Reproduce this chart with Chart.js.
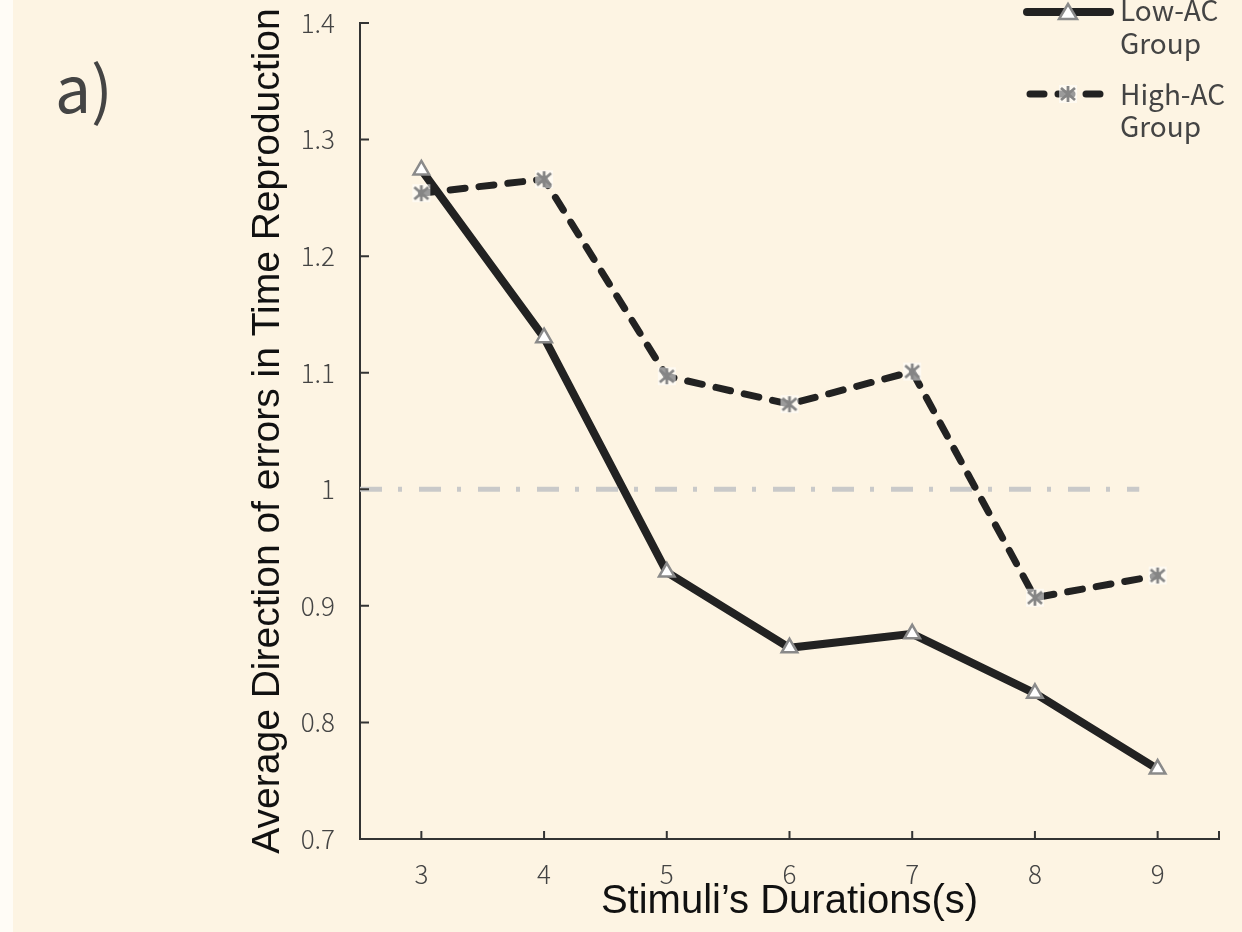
<!DOCTYPE html>
<html>
<head>
<meta charset="utf-8">
<script src="https://cdn.jsdelivr.net/npm/chart.js@4"></script>
<style>
    body { margin: 0; background: #fdf4e3; }
    #wrap { width: 1242px; height: 932px; position: relative; }
</style>
</head>
<body>
<div id="wrap"><canvas id="errors_chart"></canvas></div>
<script>
var arrDurations = ['3', '4', '5', '6', '7', '8', '9'];
var arrLowAC = [1.274, 1.130, 0.929, 0.864, 0.876, 0.825, 0.760];
var arrHighAC = [1.254, 1.266, 1.097, 1.073, 1.101, 0.907, 0.926];
var fltReference = 1;
var arrLegend = [['Low-AC', 'Group'], ['High-AC', 'Group']];

var strTickFont = '"Noto Sans CJK SC", "Noto Sans", sans-serif';
var strTitleFont = '"Liberation Sans", Arial, sans-serif';

// asterisk marker like the one excel uses
function makeStar() {
    const cnv = document.createElement('canvas');
    cnv.width = 24;
    cnv.height = 24;
    const c = cnv.getContext('2d');
    c.fillStyle = 'rgba(255,255,255,0.55)';
    c.fillRect(3, 3, 18, 18);
    c.strokeStyle = '#858585';
    c.lineWidth = 2.8;
    c.beginPath();
    c.moveTo(12, 4); c.lineTo(12, 20);
    c.moveTo(5, 6); c.lineTo(19, 18);
    c.moveTo(19, 6); c.lineTo(5, 18);
    c.stroke();
    return cnv;
}
var cnvStar = makeStar();

var extrasPlugin = {
    id: 'extras',
    beforeDraw(chart) {
        // thin light strip on the left edge of the scan
        chart.ctx.save();
        chart.ctx.fillStyle = '#fffcf6';
        chart.ctx.fillRect(0, 0, 13, chart.height);
        chart.ctx.restore();
    },
    beforeDatasetsDraw(chart) {
        const ctx = chart.ctx;
        const x = chart.scales.x;
        const y = chart.scales.y;
        const yRef = y.getPixelForValue(fltReference);
        ctx.save();
        ctx.strokeStyle = '#c9c9c9';
        ctx.lineWidth = 5;
        ctx.setLineDash([22, 16, 4, 17]);
        ctx.beginPath();
        ctx.moveTo(chart.chartArea.left, yRef);
        ctx.lineTo(x.getPixelForValue(5.85), yRef);
        ctx.stroke();
        ctx.restore();
    },
    afterDraw(chart) {
        const ctx = chart.ctx;
        const x = chart.scales.x;
        const y = chart.scales.y;
        const area = chart.chartArea;
        ctx.save();
        // inward tick marks
        ctx.strokeStyle = '#333';
        ctx.lineWidth = 2;
        ctx.beginPath();
        y.ticks.forEach(function (objTick) {
            const py = y.getPixelForValue(objTick.value);
            ctx.moveTo(area.left, py);
            ctx.lineTo(area.left + 9, py);
        });
        arrDurations.forEach(function (strDur, i) {
            const px = x.getPixelForValue(i);
            ctx.moveTo(px, area.bottom);
            ctx.lineTo(px, area.bottom - 8);
        });
        ctx.moveTo(area.right, area.bottom);
        ctx.lineTo(area.right, area.bottom - 8);
        ctx.stroke();

        // panel label
        ctx.fillStyle = '#444';
        ctx.font = '64px ' + strTickFont;
        ctx.textBaseline = 'alphabetic';
        ctx.textAlign = 'left';
        ctx.fillText('a)', 55, 113);

        // legend
        const lx0 = 1027, lx1 = 1110, tx = 1120;
        ctx.lineCap = 'round';
        ctx.strokeStyle = '#222';
        ctx.lineWidth = 8;
        ctx.beginPath();
        ctx.moveTo(lx0, 12); ctx.lineTo(lx1, 12);
        ctx.stroke();
        ctx.lineWidth = 7;
        ctx.setLineDash([14, 14]);
        ctx.beginPath();
        ctx.moveTo(lx0 + 3, 94); ctx.lineTo(lx1 - 3, 94);
        ctx.stroke();
        ctx.setLineDash([]);

        // triangle marker
        ctx.fillStyle = '#fff';
        ctx.strokeStyle = '#8a8a8a';
        ctx.lineWidth = 2.5;
        ctx.beginPath();
        ctx.moveTo(1068, 4); ctx.lineTo(1077, 19); ctx.lineTo(1059, 19);
        ctx.closePath();
        ctx.fill();
        ctx.stroke();
        ctx.drawImage(cnvStar, 1068 - 12, 94 - 12);

        ctx.fillStyle = '#444';
        ctx.font = '28px ' + strTickFont;
        ctx.textBaseline = 'middle';
        ctx.fillText(arrLegend[0][0], tx, 10);
        ctx.fillText(arrLegend[0][1], tx, 43);
        ctx.fillText(arrLegend[1][0], tx, 94);
        ctx.fillText(arrLegend[1][1], tx, 126);
        ctx.restore();
    }
};

var ctx = document.getElementById('errors_chart').getContext('2d');
var objChart = new Chart(ctx, {
    type: 'line',
    data: {
        labels: arrDurations,
        datasets: [
            {
                label: 'High-AC Group',
                data: arrHighAC,
                borderColor: '#222',
                borderWidth: 7,
                borderDash: [15, 14],
                borderCapStyle: 'round',
                pointStyle: cnvStar,
                pointRadius: 9,
                tension: 0
            },
            {
                label: 'Low-AC Group',
                data: arrLowAC,
                borderColor: '#222',
                borderWidth: 8,
                pointStyle: 'triangle',
                pointRadius: 9,
                pointBackgroundColor: '#fff',
                pointBorderColor: '#8a8a8a',
                pointBorderWidth: 2.5,
                tension: 0
            }
        ]
    },
    options: {
        animation: false,
        responsive: true,
        maintainAspectRatio: false,
        layout: {
            padding: { top: 23, right: 23, left: 0, bottom: 0 }
        },
        plugins: {
            legend: { display: false },
            tooltip: { enabled: false }
        },
        scales: {
            x: {
                offset: true,
                grid: { display: false, drawTicks: false },
                border: { display: true, color: '#333', width: 2 },
                ticks: {
                    color: '#444',
                    padding: 20,
                    font: { family: strTickFont, size: 26, weight: 300 }
                },
                title: {
                    display: true,
                    text: 'Stimuli\u2019s Durations(s)',
                    color: '#111',
                    padding: { top: 0, bottom: 6 },
                    font: { family: strTitleFont, size: 40 }
                },
                afterFit: function (scale) {
                    scale.height = 93;
                }
            },
            y: {
                min: 0.7,
                max: 1.4,
                grid: { display: false, drawTicks: false },
                border: { display: true, color: '#333', width: 2 },
                ticks: {
                    stepSize: 0.1,
                    color: '#444',
                    padding: 25,
                    font: { family: strTickFont, size: 26, weight: 300 },
                    callback: function (value) {
                        return String(+value.toFixed(1));
                    }
                },
                title: {
                    display: true,
                    text: 'Average Direction of errors in Time Reproduction',
                    color: '#111',
                    padding: { top: 245, bottom: 0 },
                    font: { family: strTitleFont, size: 39 }
                },
                afterFit: function (scale) {
                    // the label padding would otherwise push the plot down
                    scale.width = 360;
                    scale.paddingTop = 0;
                    scale.paddingBottom = 0;
                }
            }
        }
    },
    plugins: [extrasPlugin]
});
</script>
</body>
</html>
